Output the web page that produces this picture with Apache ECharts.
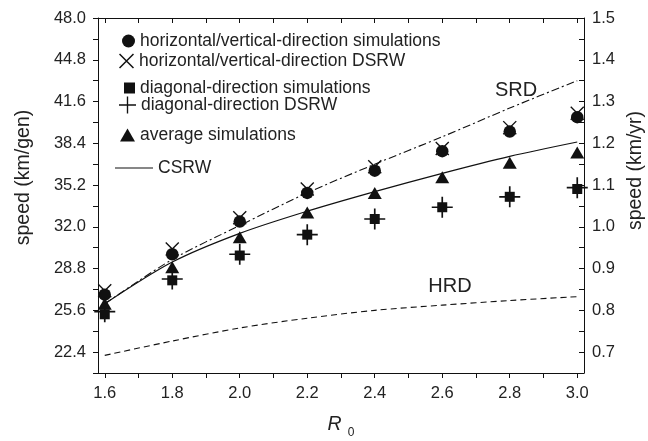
<!DOCTYPE html>
<html>
<head>
<meta charset="utf-8">
<script src="https://cdn.jsdelivr.net/npm/echarts@6/dist/echarts.min.js"></script>
<style>
html, body { margin: 0; padding: 0; background: #fff; }
#chart { width: 648px; height: 441px; }
</style>
</head>
<body>
<div id="chart"></div>
<script>
// R0 values on the x axis
const r0 = [1.6, 1.8, 2.0, 2.2, 2.4, 2.6, 2.8, 3.0];

// speeds in km/gen
const hvSim = [26.8, 29.9, 32.4, 34.6, 36.3, 37.8, 39.3, 40.4];
const hvDsrw = [27.1, 30.3, 32.7, 34.9, 36.6, 38.0, 39.6, 40.7];
const diagSim = [25.3, 27.9, 29.8, 31.4, 32.6, 33.5, 34.3, 34.9];
const diagDsrw = [25.5, 28.0, 29.9, 31.4, 32.6, 33.5, 34.3, 35.0];
const avgSim = [26.1, 28.9, 31.2, 33.1, 34.6, 35.8, 36.9, 37.7];
const csrw = [26.1, 29.3, 31.5, 33.2, 34.7, 36.1, 37.4, 38.5];
const srd = [26.1, 29.5, 32.1, 34.6, 36.8, 38.9, 41.1, 43.2];
const hrd = [22.15, 23.25, 24.25, 25.0, 25.6, 26.0, 26.35, 26.65];

// ticks and labels
const xTicks = [1.6, 1.7, 1.8, 1.9, 2.0, 2.1, 2.2, 2.3, 2.4, 2.5, 2.6, 2.7, 2.8, 2.9, 3.0];
const xLabels = [1.6, 1.8, 2.0, 2.2, 2.4, 2.6, 2.8, 3.0];
const leftTicks = [20.8, 22.4, 24.0, 25.6, 27.2, 28.8, 30.4, 32.0, 33.6, 35.2, 36.8, 38.4, 40.0, 41.6, 43.2, 44.8, 46.4, 48.0];
const leftLabels = [22.4, 25.6, 28.8, 32.0, 35.2, 38.4, 41.6, 44.8, 48.0];
const rightTicks = [0.65, 0.7, 0.75, 0.8, 0.85, 0.9, 0.95, 1.0, 1.05, 1.1, 1.15, 1.2, 1.25, 1.3, 1.35, 1.4, 1.45, 1.5];
const rightLabels = [0.7, 0.8, 0.9, 1.0, 1.1, 1.2, 1.3, 1.4, 1.5];

const FONT = 'Liberation Sans, Arial, Helvetica, sans-serif';
const INK = '#111';
const xMark = 'path://M0,0.7L0.7,0L10,9.3L9.3,10ZM9.3,0L10,0.7L0.7,10L0,9.3Z';
const plusMark = 'path://M0,4.6L4.6,4.6L4.6,0L5.4,0L5.4,4.6L10,4.6L10,5.4L5.4,5.4L5.4,10L4.6,10L4.6,5.4L0,5.4Z';
const lineIcon = 'path://M0,0L38,0L38,1.2L0,1.2Z';

const pairs = ys => r0.map((x, i) => [x, ys[i]]);

const chart = echarts.init(document.getElementById('chart'));

const tickLabel = { fontSize: 16.5, color: '#222', fontFamily: FONT };
const axisLine = { show: true, lineStyle: { color: INK, width: 1 } };
const solid = { color: INK, opacity: 1 };

function legendItem(item, top, left, w, h) {
  return {
    data: [item],
    top: top,
    left: left,
    itemWidth: w,
    itemHeight: h,
    selectedMode: false,
    textStyle: { fontSize: 17.5, color: '#222', fontFamily: FONT }
  };
}

const option = {
  animation: false,
  backgroundColor: '#fff',
  grid: { left: 98, right: 64, top: 18, bottom: 68, containLabel: false, outerBoundsMode: 'none' },
  legend: [
    legendItem('horizontal/vertical-direction simulations', 27, 117, 13, 13),
    legendItem('horizontal/vertical-direction DSRW', 47, 114, 15, 15),
    legendItem('diagonal-direction simulations', 74, 119, 11, 11),
    legendItem('diagonal-direction DSRW', 91, 114, 17, 17),
    legendItem('average simulations', 121, 115, 15, 13),
    legendItem({ name: 'CSRW', icon: lineIcon }, 154, 110, 38, 14)
  ],
  xAxis: [
    {
      type: 'value', min: 1.58, max: 3.02, position: 'bottom',
      axisLine: axisLine,
      axisTick: { show: true, inside: false, length: 5, lineStyle: { color: INK }, customValues: xTicks },
      axisLabel: { ...tickLabel, margin: 12, customValues: xLabels, formatter: v => v.toFixed(1) },
      splitLine: { show: false },
      name: '{r|R}{s|0}',
      nameLocation: 'middle',
      nameGap: 42,
      nameTextStyle: {
        rich: {
          r: { fontSize: 19.5, fontStyle: 'italic', fontFamily: FONT, color: '#222', verticalAlign: 'top', lineHeight: 20 },
          s: { fontSize: 12, fontFamily: FONT, color: '#222', verticalAlign: 'top', lineHeight: 12, padding: [12, 0, 0, 6] }
        }
      }
    },
    {
      type: 'value', min: 1.58, max: 3.02, position: 'top',
      axisLine: axisLine,
      axisTick: { show: true, inside: true, length: 5, lineStyle: { color: INK }, customValues: xTicks },
      axisLabel: { show: false },
      splitLine: { show: false }
    }
  ],
  yAxis: [
    {
      type: 'value', min: 20.8, max: 48, position: 'left',
      axisLine: axisLine,
      axisTick: { show: true, inside: false, length: 5, lineStyle: { color: INK }, customValues: leftTicks },
      axisLabel: { ...tickLabel, margin: 12, customValues: leftLabels, formatter: v => v.toFixed(1) },
      splitLine: { show: false },
      name: 'speed (km/gen)',
      nameLocation: 'middle',
      nameGap: 64,
      nameTextStyle: { fontSize: 19.5, color: '#222', fontFamily: FONT, padding: [0, 0, 0, 36] }
    },
    {
      type: 'value', min: 0.65, max: 1.5, position: 'right',
      axisLine: axisLine,
      axisTick: { show: true, inside: true, length: 5, lineStyle: { color: INK }, customValues: rightTicks },
      axisLabel: { ...tickLabel, margin: 8, customValues: rightLabels, formatter: v => v.toFixed(1) },
      splitLine: { show: false },
      name: 'speed (km/yr)',
      nameLocation: 'middle',
      nameGap: 40,
      nameTextStyle: { fontSize: 19.5, color: '#222', fontFamily: FONT, padding: [0, 0, 0, 50] }
    }
  ],
  series: [
    {
      name: 'horizontal/vertical-direction DSRW', type: 'scatter',
      symbol: xMark, symbolSize: 14,
      itemStyle: solid, data: pairs(hvDsrw)
    },
    {
      name: 'horizontal/vertical-direction simulations', type: 'scatter',
      symbol: 'circle', symbolSize: 12.5,
      itemStyle: solid, data: pairs(hvSim)
    },
    {
      name: 'diagonal-direction DSRW', type: 'scatter',
      symbol: plusMark, symbolSize: 21,
      itemStyle: solid, data: pairs(diagDsrw)
    },
    {
      name: 'diagonal-direction simulations', type: 'scatter',
      symbol: 'rect', symbolSize: 10,
      itemStyle: solid, data: pairs(diagSim)
    },
    {
      name: 'average simulations', type: 'scatter',
      symbol: 'triangle', symbolSize: [14, 12],
      itemStyle: solid, data: pairs(avgSim)
    },
    {
      name: 'CSRW', type: 'line', symbol: 'none', smooth: 0.3,
      lineStyle: { color: INK, width: 1.2 }, itemStyle: solid,
      data: pairs(csrw)
    },
    {
      name: 'SRD', type: 'line', symbol: 'none', smooth: 0.3,
      lineStyle: { color: INK, width: 1.1, type: [8, 3, 2, 3] },
      data: pairs(srd)
    },
    {
      name: 'HRD', type: 'line', symbol: 'none', smooth: 0.3,
      lineStyle: { color: INK, width: 1.1, type: [6, 4] },
      data: pairs(hrd)
    }
  ],
  graphic: [
    { type: 'text', x: 516, y: 90, style: { text: 'SRD', fontSize: 20, fontFamily: FONT, fill: '#222', align: 'center', verticalAlign: 'middle' } },
    { type: 'text', x: 450, y: 286, style: { text: 'HRD', fontSize: 20, fontFamily: FONT, fill: '#222', align: 'center', verticalAlign: 'middle' } }
  ]
};

chart.setOption(option);
</script>
</body>
</html>
